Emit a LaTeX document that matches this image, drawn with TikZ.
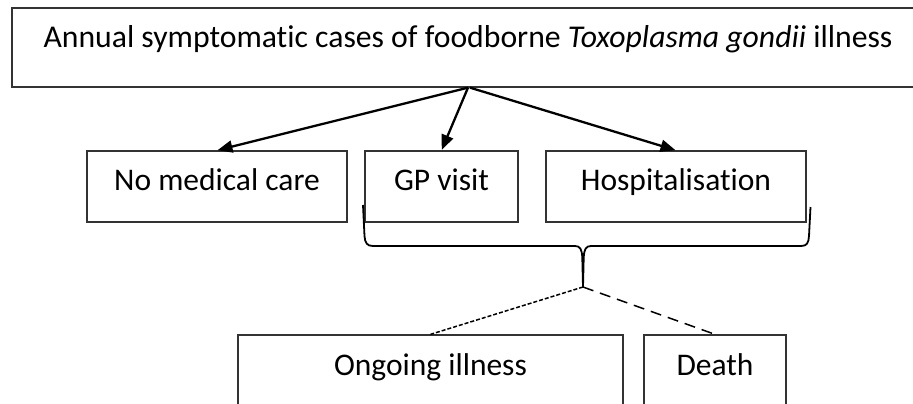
\documentclass[tikz,border=0pt]{standalone}
\usepackage{fontspec}
\setmainfont{Carlito}[Ligatures=NoCommon]
\usetikzlibrary{arrows.meta,calc}
\begin{document}
\begin{tikzpicture}[x=1pt,y=-1pt,
  box/.style={draw=black!80, line width=1.3pt, inner sep=0pt, rectangle},
  boxtext/.style={font=\fontsize{31.5}{36}\selectfont, anchor=base, inner sep=0pt},
  toptext/.style={font=\fontsize{31.7}{36}\selectfont, anchor=base, inner sep=0pt},
  flow/.style={-{Triangle[length=15pt,width=12pt]}, line width=2.3pt, shorten >=0.5pt},
  bracestroke/.style={line width=1.8pt, line join=round},
  dotline/.style={line width=1.5pt, dash pattern=on 4pt off 2pt},
  dashline/.style={line width=1.5pt, dash pattern=on 11pt off 7pt}]
\useasboundingbox (0,0) rectangle (913,404);
\clip (0,0) rectangle (913,404);

% boxes
\node[box, minimum width=912pt, minimum height=79pt] (top) at (468,47.5) {};
\node[box, minimum width=260pt, minimum height=71pt] (nomed) at (217,186.5) {};
\node[box, minimum width=153pt, minimum height=71pt] (gp) at (441.5,186.5) {};
\node[box, minimum width=260pt, minimum height=71pt] (hosp) at (676,186.5) {};
\node[box, minimum width=385pt, minimum height=100pt] (ongoing) at (430.5,385) {};
\node[box, minimum width=142pt, minimum height=100pt] (death) at (715,385) {};

% labels, top-aligned inside their boxes
\node[toptext] (ttop) at ($(top.north)+(0,40.5)$) {Annual symptomatic cases of foodborne \textit{Toxoplasma gondii} illness};
\node[boxtext] (tnomed) at ($(nomed.north)+(0,40.5)$) {No medical care};
\node[boxtext] (tgp) at ($(gp.north)+(0,40.5)$) {GP visit};
\node[boxtext] (thosp) at ($(hosp.north)+(0,40.5)$) {Hospitalisation};
\node[boxtext] (tongoing) at ($(ongoing.north)+(0,41)$) {Ongoing illness};
\node[boxtext] (tdeath) at ($(death.north)+(0,41)$) {Death};

% arrows from the top box
\draw[flow] (top.south) -- (nomed.north);
\draw[flow] (top.south) -- (gp.north);
\draw[flow] ($(top.south)+(2,0)$) -- (hosp.north);

% curly brace under GP visit and Hospitalisation
\coordinate (tip) at (583,287);
\draw[bracestroke] (363,205) -- (364.5,236)
  .. controls (365,243) and (367,246) .. (373,246) -- (575,246)
  .. controls (580,246) and (582,249) .. (582.3,258) -- (tip)
  -- (583.7,258) .. controls (584,249) and (586,246) .. (591,246)
  -- (801,246) .. controls (807,246) and (808.5,243) .. (809,236) -- (810.5,207);

% outcome links
\draw[dotline] (tip) -- (ongoing.north);
\draw[dashline] (tip) -- (death.north);
\end{tikzpicture}
\end{document}
